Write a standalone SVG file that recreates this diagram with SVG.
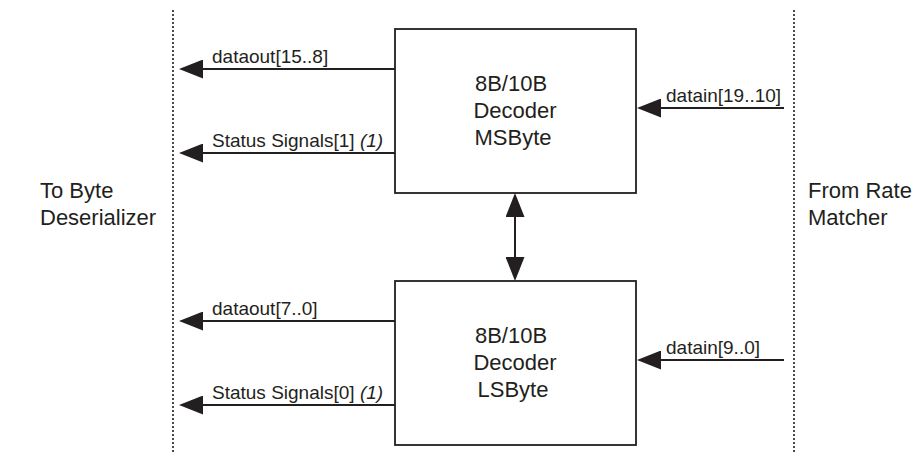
<svg xmlns="http://www.w3.org/2000/svg" width="922" height="476" viewBox="0 0 922 476">
<style>
.box{fill:#fff;stroke:#231f20;stroke-width:1.8}
.wire{stroke:#231f20;stroke-width:2;fill:none}
.dot{stroke:#231f20;stroke-width:1.6;stroke-dasharray:2 2;fill:none}
.big{font-family:"Liberation Sans",Arial,sans-serif;font-size:22px;fill:#231f20}
.lbl{font-family:"Liberation Sans",Arial,sans-serif;font-size:19px;fill:#231f20}
.it{font-style:italic}
</style>
<defs>
<marker id="ah" markerUnits="userSpaceOnUse" markerWidth="24" markerHeight="19" viewBox="0 0 24 19" refX="20" refY="9.5" orient="auto-start-reverse">
<path d="M0,0 L24,9.5 L0,19 z" fill="#231f20"/>
</marker>
</defs>
<rect width="922" height="476" fill="#fff"/>
<g id="boundaries">
<line class="dot" x1="173" y1="10" x2="173" y2="452"/>
<line class="dot" x1="794" y1="10" x2="794" y2="452"/>
</g>
<g id="to-byte-deserializer">
<text class="big" x="40" y="198">To Byte</text>
<text class="big" x="40" y="225">Deserializer</text>
</g>
<g id="from-rate-matcher">
<text class="big" x="808" y="198">From Rate</text>
<text class="big" x="808" y="225">Matcher</text>
</g>
<g id="decoder-msbyte">
<rect class="box" x="395" y="29" width="241" height="164"/>
<text class="big" text-anchor="middle" x="511" y="91">8B/10B</text>
<text class="big" text-anchor="middle" x="515" y="118">Decoder</text>
<text class="big" text-anchor="middle" x="513" y="145">MSByte</text>
</g>
<g id="decoder-lsbyte">
<rect class="box" x="395" y="281" width="241" height="164"/>
<text class="big" text-anchor="middle" x="511" y="343">8B/10B</text>
<text class="big" text-anchor="middle" x="515" y="370">Decoder</text>
<text class="big" text-anchor="middle" x="513" y="397">LSByte</text>
</g>
<g id="connectors">
<line class="wire" x1="395" y1="69" x2="183" y2="69" marker-end="url(#ah)"/>
<line class="wire" x1="395" y1="153" x2="183" y2="153" marker-end="url(#ah)"/>
<line class="wire" x1="395" y1="321" x2="183" y2="321" marker-end="url(#ah)"/>
<line class="wire" x1="395" y1="405" x2="183" y2="405" marker-end="url(#ah)"/>
<line class="wire" x1="784" y1="108" x2="641" y2="108" marker-end="url(#ah)"/>
<line class="wire" x1="784" y1="360" x2="641" y2="360" marker-end="url(#ah)"/>
<line class="wire" x1="515" y1="197" x2="515" y2="277" marker-start="url(#ah)" marker-end="url(#ah)"/>
<text class="lbl" x="212" y="63">dataout[15..8]</text>
<text class="lbl" x="212" y="147">Status Signals[1] <tspan class="it">(1)</tspan></text>
<text class="lbl" x="212" y="315">dataout[7..0]</text>
<text class="lbl" x="212" y="399">Status Signals[0] <tspan class="it">(1)</tspan></text>
<text class="lbl" x="666" y="102">datain[19..10]</text>
<text class="lbl" x="666" y="354">datain[9..0]</text>
</g>
</svg>
